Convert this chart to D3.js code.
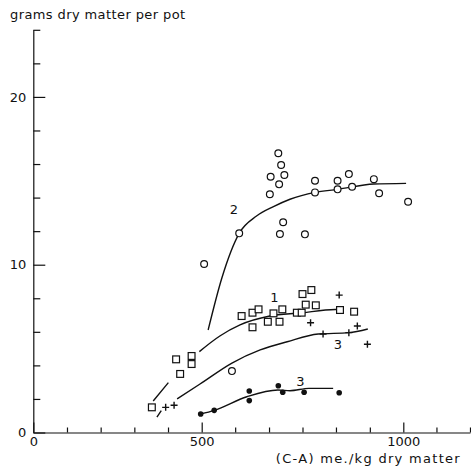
<!DOCTYPE html>
<html>
<head>
<meta charset="utf-8">
<script src="https://cdn.jsdelivr.net/npm/d3@7"></script>
<style>
  body { margin: 0; background: #fff; }
  text { font-family: "DejaVu Sans", sans-serif; fill: #111; }
</style>
</head>
<body>
<svg id="chart" width="471" height="470"></svg>
<script>
// values: [C-A me./kg, grams per pot]
var curve2Points = [[506, 10.04], [575, 3.66], [593, 11.87], [669, 14.2], [671, 15.24], [690, 16.64],
  [692, 14.79], [694, 11.83], [697, 15.94], [702, 12.53], [705, 15.35], [756, 11.81], [781, 15.0],
  [781, 14.31], [837, 15.0], [837, 14.49], [865, 15.4], [873, 14.65], [927, 15.1], [940, 14.26], [1012, 13.75]];

var curve1Points = [[352, 1.5], [424, 4.36], [436, 3.49], [470, 4.56], [470, 4.08], [599, 6.94], [626, 7.14],
  [626, 6.27], [641, 7.34], [664, 6.6], [678, 7.1], [693, 6.6], [700, 7.34], [736, 7.14], [748, 7.14],
  [750, 8.25], [758, 7.62], [772, 8.49], [783, 7.58], [843, 7.3], [878, 7.2]];

var curve3Crosses = [[393, 1.5], [418, 1.62], [770, 6.54], [801, 5.87], [841, 8.19], [865, 5.95],
  [886, 6.35], [911, 5.26]];

var curve3Dots = [[497, 1.1], [531, 1.32], [618, 2.47], [618, 1.9], [690, 2.79], [701, 2.4], [754, 2.4], [841, 2.37]];

// fitted curves as drawn by hand (null = pen lifted)
var line2 = [[516, 6.11], [550, 9.21], [593, 11.87], [636, 12.9], [678, 13.46], [719, 13.9],
  [781, 14.31], [837, 14.49], [927, 14.81], [1007, 14.85]];
var line1 = [[356, 1.88], [401, 2.97], null, [493, 4.82], [545, 5.75], [595, 6.41], [669, 6.94],
  [744, 7.12], [831, 7.33], [848, 7.33]];
var line3 = [[367, 0.92], [380, 1.3], null, [427, 2.0], [495, 2.89], [575, 4.14], [645, 4.92],
  [712, 5.41], [789, 5.87], [865, 5.95], [912, 6.17]];
var line3Dots = [[497, 1.1], [531, 1.32], [612, 2.13], [689, 2.53], [719, 2.49], [766, 2.63], [826, 2.63]];

var curveLabels = [
  { text: '2', x: 580, y: 13.0 },
  { text: '1', x: 680, y: 7.8 },
  { text: '3', x: 838, y: 5.0 },
  { text: '3', x: 745, y: 2.8 }
];

var xMajorTicks = [0, 500, 1000];
var xMinorTicks = [100, 200, 300, 400, 583, 667, 750, 833, 917, 1083, 1167];
var yMajorTicks = [0, 10, 20];
var yMinorTicks = [2, 4, 6, 8, 12, 14, 16, 18, 22, 24];

var svg = d3.select('#chart');

// the printed x axis is not evenly spaced: 500 and 1000 sit where they sit
var x = d3.scaleLinear()
  .domain([0, 500, 1000, 1167])
  .range([33.3, 201.7, 403.3, 470]);

var y = d3.scaleLinear()
  .domain([0, 24])
  .range([432.5, 29.8]);

var ink = '#111';

// x axis
var xAxisG = svg.append('g').attr('transform', 'translate(0,' + y(0) + ')');
xAxisG.call(d3.axisBottom(x).tickValues(xMinorTicks).tickSize(-5).tickSizeOuter(0).tickFormat(''));
xAxisG.append('g').call(d3.axisBottom(x).tickValues(xMajorTicks).tickSize(-10).tickPadding(4)
  .tickFormat(d3.format('d')))
  .call(function (g) { g.select('.domain').remove(); });

// y axis
var yAxisG = svg.append('g').attr('transform', 'translate(' + x(0) + ',0)');
yAxisG.call(d3.axisLeft(y).tickValues(yMinorTicks).tickSize(-7).tickSizeOuter(0).tickFormat(''));
yAxisG.append('g').call(d3.axisLeft(y).tickValues(yMajorTicks).tickSize(-12).tickPadding(7)
  .tickFormat(d3.format('d')))
  .call(function (g) { g.select('.domain').remove(); });

svg.selectAll('.domain, .tick line').attr('stroke', ink).attr('stroke-width', 1.2);
svg.selectAll('.tick text').attr('font-size', 13).attr('font-family', '"DejaVu Sans", sans-serif').attr('fill', ink);

// axis titles
svg.append('text')
  .attr('x', 10)
  .attr('y', 19)
  .attr('font-size', 13)
  .attr('letter-spacing', 0.4)
  .text('grams dry matter  per pot');

svg.append('text')
  .attr('x', 461)
  .attr('y', 463)
  .attr('text-anchor', 'end')
  .attr('font-size', 13)
  .attr('letter-spacing', 1.3)
  .text('(C-A) me./kg dry matter');

// curves
var lineGen = d3.line()
  .defined(function (d) { return d !== null; })
  .x(function (d) { return x(d[0]); })
  .y(function (d) { return y(d[1]); })
  .curve(d3.curveMonotoneX);

[line2, line1, line3, line3Dots].forEach(function (pts) {
  svg.append('path')
    .datum(pts)
    .attr('d', lineGen)
    .attr('fill', 'none')
    .attr('stroke', ink)
    .attr('stroke-width', 1.4);
});

// symbols
svg.append('g').selectAll('circle')
  .data(curve2Points)
  .enter().append('circle')
  .attr('cx', function (d) { return x(d[0]); })
  .attr('cy', function (d) { return y(d[1]); })
  .attr('r', 3.4)
  .attr('fill', '#fff')
  .attr('stroke', ink)
  .attr('stroke-width', 1.2);

svg.append('g').selectAll('rect')
  .data(curve1Points)
  .enter().append('rect')
  .attr('x', function (d) { return x(d[0]) - 3.4; })
  .attr('y', function (d) { return y(d[1]) - 3.4; })
  .attr('width', 6.8)
  .attr('height', 6.8)
  .attr('fill', '#fff')
  .attr('stroke', ink)
  .attr('stroke-width', 1.2);

svg.append('g').selectAll('path')
  .data(curve3Crosses)
  .enter().append('path')
  .attr('transform', function (d) { return 'translate(' + x(d[0]) + ',' + y(d[1]) + ')'; })
  .attr('d', 'M-3.5,0H3.5M0,-3.5V3.5')
  .attr('stroke', ink)
  .attr('stroke-width', 1.4);

svg.append('g').selectAll('circle')
  .data(curve3Dots)
  .enter().append('circle')
  .attr('cx', function (d) { return x(d[0]); })
  .attr('cy', function (d) { return y(d[1]); })
  .attr('r', 2.8)
  .attr('fill', ink);

// curve numbers
svg.append('g').selectAll('text')
  .data(curveLabels)
  .enter().append('text')
  .attr('x', function (d) { return x(d.x); })
  .attr('y', function (d) { return y(d.y); })
  .attr('text-anchor', 'middle')
  .attr('font-size', 13)
  .text(function (d) { return d.text; });
</script>
</body>
</html>
